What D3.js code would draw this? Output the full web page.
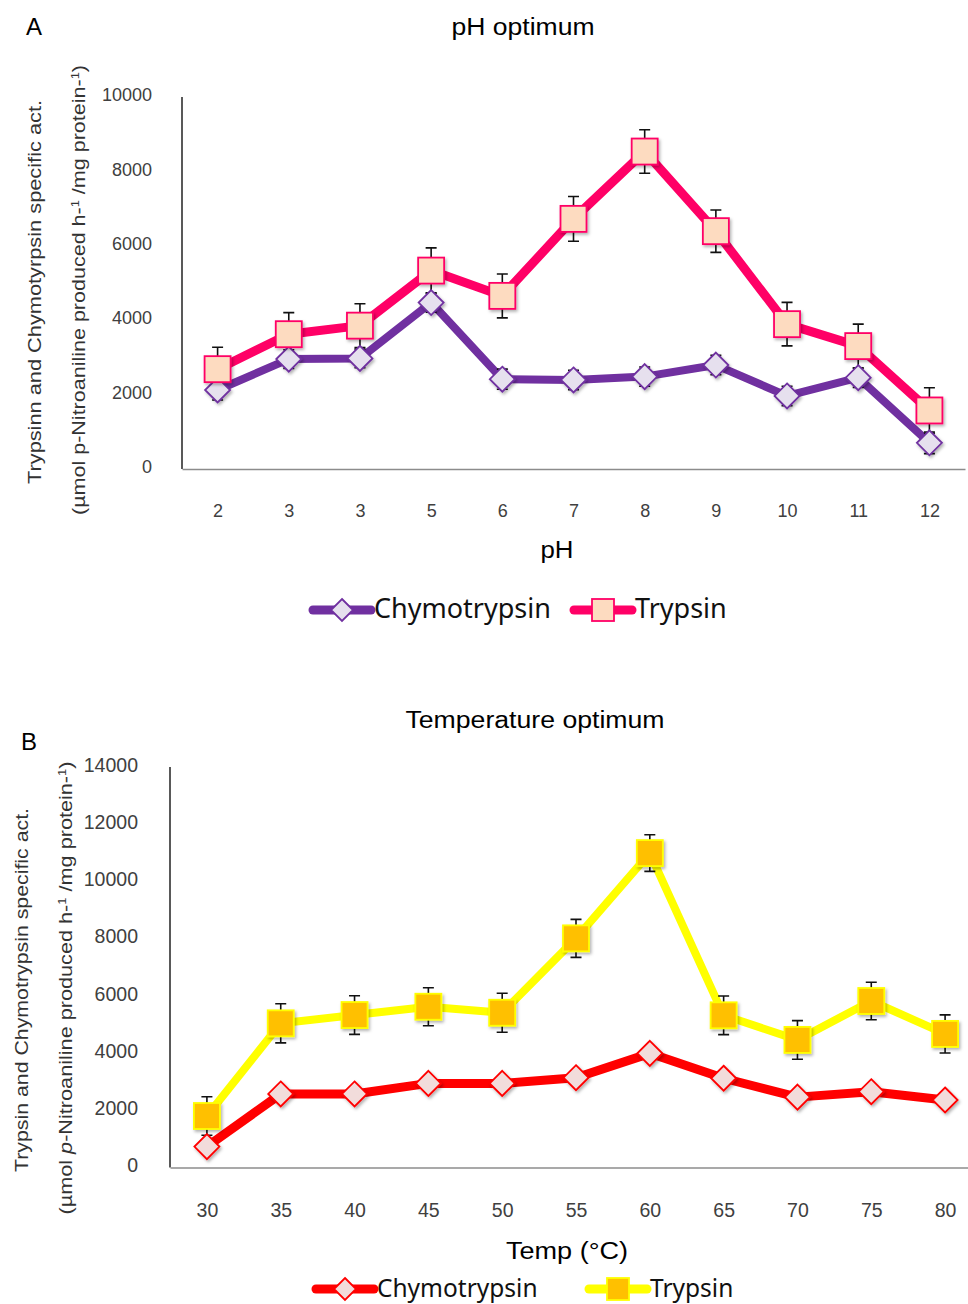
<!DOCTYPE html>
<meta charset="utf-8">
<script src="https://d3js.org/d3.v7.min.js"></script>
<style>
    body { margin: 0; background: #fff; }
    text { font-family: "Liberation Sans", Arial, sans-serif; }
    .legend text { font-family: "Noto Sans", sans-serif; }
</style>
<body>
    <div id="chart"></div>
</body>
<script>

    // ---- data ----
    var phLabels = ["2", "3", "3", "5", "6", "7", "8", "9", "10", "11", "12"];
    var phChymo = [2070, 2900, 2920, 4420, 2360, 2340, 2430, 2740, 1910, 2400, 650];
    var phChymoErr = [270, 250, 250, 260, 270, 260, 260, 260, 260, 260, 290];
    var phTrypsin = [2630, 3570, 3800, 5280, 4600, 6670, 8480, 6340, 3840, 3250, 1520];
    var phTrypsinErr = [590, 580, 590, 610, 590, 600, 585, 570, 585, 590, 610];
    var phTicks = [0, 2000, 4000, 6000, 8000, 10000];

    var tempLabels = ["30", "35", "40", "45", "50", "55", "60", "65", "70", "75", "80"];
    var tempChymo = [660, 2500, 2500, 2870, 2870, 3070, 3920, 3050, 2390, 2580, 2290];
    var tempTrypsin = [1730, 4970, 5260, 5550, 5340, 7940, 10920, 5250, 4390, 5750, 4600];
    var tempTrypsinErr = [675, 685, 675, 665, 680, 665, 640, 675, 675, 655, 665];
    var tempTicks = [0, 2000, 4000, 6000, 8000, 10000, 12000, 14000];

    var svg = d3.select("#chart")
        .append("svg")
        .attr("width", 968)
        .attr("height", 1304);

    // soft shadow like the office markers
    var defs = svg.append("defs");
    defs.append("filter")
        .attr("id", "shadow")
        .attr("x", "-50%").attr("y", "-50%")
        .attr("width", "200%").attr("height", "200%")
        .append("feDropShadow")
        .attr("dx", 1.5).attr("dy", 2)
        .attr("stdDeviation", 1.5)
        .attr("flood-color", "#000")
        .attr("flood-opacity", 0.3);

    function diamond(g, x, y, r, fill, stroke) {
        g.append("path")
            .attr("d", "M" + x + "," + (y - r) + "L" + (x + r) + "," + y + "L" + x + "," + (y + r) + "L" + (x - r) + "," + y + "Z")
            .attr("fill", fill)
            .attr("stroke", stroke)
            .attr("stroke-width", 1.8);
    }

    function square(g, x, y, r, fill, stroke) {
        g.append("rect")
            .attr("x", x - r).attr("y", y - r)
            .attr("width", 2 * r).attr("height", 2 * r)
            .attr("fill", fill)
            .attr("stroke", stroke)
            .attr("stroke-width", 1.8);
    }

    // stretch a text to the width it has in the figure
    function fit(t, len) {
        t.attr("textLength", len).attr("lengthAdjust", "spacingAndGlyphs");
        return t;
    }

    function drawPanel(p) {
        var x = d3.scalePoint().domain(d3.range(p.labels.length)).range(p.xRange).padding(0.5);
        var y = d3.scaleLinear().domain([0, p.yMax]).range(p.yRange);
        var g = svg.append("g");

        // y axis
        var ya = g.append("g")
            .attr("transform", "translate(" + p.xRange[0] + ",0)")
            .call(d3.axisLeft(y).tickValues(p.ticks).tickSize(0).tickPadding(p.yPad).tickFormat(d3.format("d")));
        ya.select(".domain").attr("stroke", "#222").attr("stroke-width", 1.5)
            .attr("d", "M0," + (p.yRange[1] + 2) + "V" + (p.yRange[0] + 2));
        ya.selectAll("text").attr("font-size", p.tickSize).attr("fill", "#404040")
            .style("font-family", "Liberation Sans, Arial, sans-serif");

        // x axis
        var xa = g.append("g")
            .attr("transform", "translate(0," + (p.yRange[0] + 2) + ")")
            .call(d3.axisBottom(x).tickSize(0).tickPadding(p.xPad).tickFormat(function (i) { return p.labels[i]; }));
        xa.select(".domain").attr("stroke", "#8c8c8c").attr("stroke-width", 1.5);
        xa.selectAll("text").attr("font-size", p.tickSize).attr("fill", "#404040")
            .style("font-family", "Liberation Sans, Arial, sans-serif");

        var line = d3.line().x(function (d, i) { return x(i); }).y(function (d) { return y(d); });

        p.series.forEach(function (s) {
            g.append("path")
                .datum(s.values)
                .attr("d", line)
                .attr("fill", "none")
                .attr("stroke", s.line)
                .attr("stroke-width", s.width)
                .attr("stroke-linejoin", "round");
        });

        // error bars
        p.series.forEach(function (s) {
            if (!s.err) return;
            s.values.forEach(function (v, i) {
                var cx = x(i), y1 = y(v + s.err[i]), y0 = y(v - s.err[i]);
                g.append("path")
                    .attr("d", "M" + cx + "," + y0 + "V" + y1 +
                        "M" + (cx - 5.5) + "," + y1 + "H" + (cx + 5.5) +
                        "M" + (cx - 5.5) + "," + y0 + "H" + (cx + 5.5))
                    .attr("stroke", "#111")
                    .attr("stroke-width", 1.6)
                    .attr("fill", "none");
            });
        });

        p.series.forEach(function (s) {
            var mg = g.append("g").attr("filter", "url(#shadow)");
            s.values.forEach(function (v, i) {
                if (s.marker == "diamond") diamond(mg, x(i), y(v), 12.5, s.fill, s.stroke);
                else square(mg, x(i), y(v), 13, s.fill, s.stroke);
            });
        });

        // titles
        g.append("text").attr("x", p.letterX).attr("y", p.letterY).attr("font-size", 24).text(p.letter);
        fit(g.append("text").attr("x", p.titleX).attr("y", p.titleY).attr("text-anchor", "middle")
            .attr("font-size", 23).text(p.title), p.titleLen);
        fit(g.append("text").attr("x", p.xTitleX).attr("y", p.xTitleY).attr("text-anchor", "middle")
            .attr("font-size", 23).text(p.xTitle), p.xTitleLen);

        // rotated y titles
        fit(g.append("text")
            .attr("transform", "translate(" + p.yt1[0] + "," + p.yt1[1] + ") rotate(-90)")
            .attr("text-anchor", "middle").attr("font-size", p.ytSize).attr("fill", "#333")
            .text(p.yTitle1), p.yt1[2]);
        var t2 = fit(g.append("text")
            .attr("transform", "translate(" + p.yt2[0] + "," + p.yt2[1] + ") rotate(-90)")
            .attr("text-anchor", "middle").attr("font-size", p.ytSize).attr("fill", "#333"), p.yt2[2]);
        p.yTitle2.forEach(function (part) {
            var ts = t2.append("tspan").text(part.t);
            if (part.sup) ts.attr("font-size", p.ytSize * 0.6).attr("baseline-shift", "super");
            if (part.it) ts.attr("font-style", "italic");
        });

        // legend
        var lg = g.append("g").attr("class", "legend");
        p.series.forEach(function (s, k) {
            var lx = p.legendX[k], ly = p.legendY;
            lg.append("line")
                .attr("x1", lx).attr("x2", lx + 58).attr("y1", ly).attr("y2", ly)
                .attr("stroke", s.line).attr("stroke-width", 9).attr("stroke-linecap", "round");
            if (s.marker == "diamond") diamond(lg, lx + 29, ly, 11, s.fill, s.stroke);
            else square(lg, lx + 29, ly, 11, s.fill, s.stroke);
            lg.append("text").attr("x", lx + 61).attr("y", ly + 8)
                .attr("font-size", p.legendSize).attr("fill", "#111").text(s.name);
        });
    }

    drawPanel({
        labels: phLabels, xRange: [182, 965], yRange: [467, 95], yMax: 10000, ticks: phTicks,
        yPad: 30, xPad: 35, tickSize: 18,
        letter: "A", letterX: 26, letterY: 35,
        title: "pH optimum", titleX: 523, titleY: 35, titleLen: 143,
        xTitle: "pH", xTitleX: 557, xTitleY: 558, xTitleLen: 33,
        yTitle1: "Trypsinn and Chymotyrpsin  specific act.", yt1: [41, 292, 384],
        yTitle2: [{ t: "(µmol p-Nitroaniline produced h-" }, { t: "1", sup: true }, { t: " /mg protein-" }, { t: "1", sup: true }, { t: ")" }],
        yt2: [85, 290, 450], ytSize: 19,
        legendX: [313, 574], legendY: 610, legendSize: 27,
        series: [
            { name: "Chymotrypsin", values: phChymo, err: phChymoErr, line: "#7030a0", width: 8, marker: "diamond", fill: "#e6e0ee", stroke: "#7030a0" },
            { name: "Trypsin", values: phTrypsin, err: phTrypsinErr, line: "#ff0066", width: 9, marker: "square", fill: "#fddbc0", stroke: "#ff0066" }
        ]
    });

    drawPanel({
        labels: tempLabels, xRange: [170, 982], yRange: [1165.5, 765], yMax: 14000, ticks: tempTicks,
        yPad: 32, xPad: 36, tickSize: 19.5,
        letter: "B", letterX: 21, letterY: 750,
        title: "Temperature optimum", titleX: 535, titleY: 728, titleLen: 259,
        xTitle: "Temp (°C)", xTitleX: 567, xTitleY: 1259, xTitleLen: 122,
        yTitle1: "Trypsin and Chymotrypsin specific act.", yt1: [28, 990, 364],
        yTitle2: [{ t: "(µmol " }, { t: "p", it: true }, { t: "-Nitroaniline  produced h-" }, { t: "1", sup: true }, { t: " /mg protein-" }, { t: "1", sup: true }, { t: ")" }],
        yt2: [72, 988, 453], ytSize: 19,
        legendX: [316, 589], legendY: 1289, legendSize: 24.5,
        series: [
            { name: "Chymotrypsin", values: tempChymo, line: "#ff0000", width: 9, marker: "diamond", fill: "#f2dcdb", stroke: "#ff0000" },
            { name: "Trypsin", values: tempTrypsin, err: tempTrypsinErr, line: "#ffff00", width: 8, marker: "square", fill: "#ffc000", stroke: "#ffff00" }
        ]
    });

</script>
